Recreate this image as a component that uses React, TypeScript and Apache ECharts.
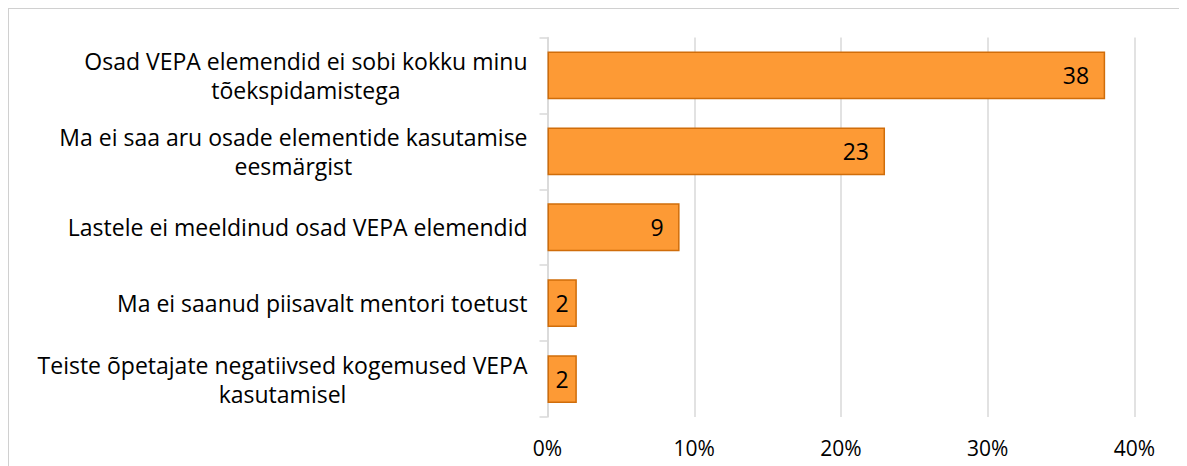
import React, { useEffect, useRef } from "react";
import * as echarts from "echarts";

const categories: string[] = [
  "Osad VEPA elemendid ei sobi kokku minu\ntõekspidamistega",
  "Ma ei saa aru osade elementide kasutamise\neesmärgist",
  "Lastele ei meeldinud osad VEPA elemendid",
  "Ma ei saanud piisavalt mentori toetust",
  "Teiste õpetajate negatiivsed kogemused VEPA\nkasutamisel",
];
const percentValues: number[] = [38, 23, 9, 2, 2];
const countLabels: number[] = [38, 23, 9, 2, 2];
const xTicks = { min: 0, max: 40, interval: 10 };

const FONT = "'Open Sans', Lato, sans-serif";
const FS = 23;

export default function App() {
  const ref = useRef<HTMLDivElement>(null);
  useEffect(() => {
    if (!ref.current) return;
    const chart = echarts.init(ref.current, null, { renderer: "svg" });
    chart.setOption({
      animation: false,
      textStyle: { fontFamily: FONT },
      grid: { left: 538.5, right: 52.5, top: 28.5, bottom: 49, containLabel: false },
      xAxis: {
        type: "value",
        min: xTicks.min,
        max: xTicks.max,
        interval: xTicks.interval,
        axisLine: { show: false },
        axisTick: { show: false },
        splitLine: { show: true, lineStyle: { color: "#d9d9d9", width: 1.5 } },
        axisLabel: {
          formatter: "{value}%",
          color: "#000",
          fontSize: 21,
          fontFamily: FONT,
          margin: 20,
        },
      },
      yAxis: {
        type: "category",
        inverse: true,
        data: categories,
        axisLine: { show: true, lineStyle: { color: "#d9d9d9", width: 1.5 } },
        axisTick: { show: true, length: 8, lineStyle: { color: "#d9d9d9", width: 1.5 } },
        axisLabel: {
          color: "#000",
          fontSize: FS,
          fontFamily: FONT,
          margin: 20,
          lineHeight: 29,
          formatter: (v: string) =>
            v
              .split("\n")
              .map((l) => `{c|${l}}`)
              .join("\n"),
          rich: {
            c: { align: "center", fontSize: FS, lineHeight: 29, color: "#000", fontFamily: FONT },
          },
        },
      },
      series: [
        {
          type: "bar",
          data: percentValues.map((v) =>
            v < 5 ? { value: v, label: { position: "inside" } } : v
          ),
          barCategoryGap: "37%",
          itemStyle: { color: "#fd9a35", borderColor: "#d06d0a", borderWidth: 1.5 },
          label: {
            show: true,
            position: "insideRight",
            distance: 16,
            color: "#000",
            fontSize: 23,
            fontFamily: FONT,
            formatter: (p: any) => String(countLabels[p.dataIndex]),
          },
        },
      ],
    });
    return () => chart.dispose();
  }, []);
  return (
    <div
      style={{
        width: 1179,
        height: 458,
        borderLeft: "1.5px solid #d0d0d0",
        borderTop: "1.5px solid #d0d0d0",
        boxSizing: "border-box",
        overflow: "hidden",
      }}
    >
      <div ref={ref} style={{ width: 1178, height: 457 }} />
    </div>
  );
}
